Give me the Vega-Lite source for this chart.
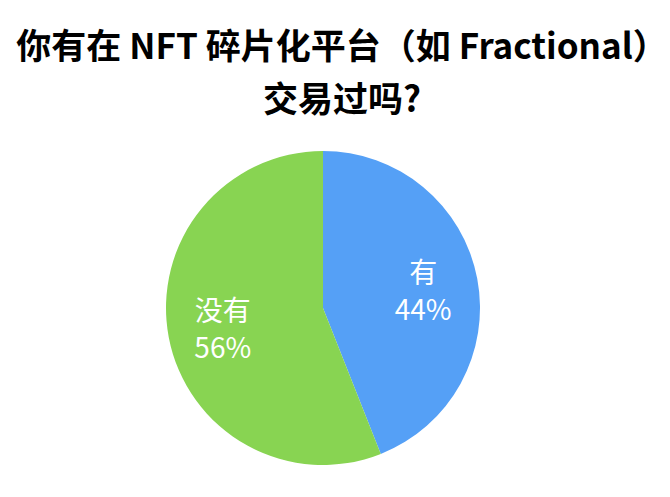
{
  "$schema": "https://vega.github.io/schema/vega-lite/v6.json",
  "autosize": "none",
  "width": 314,
  "height": 314,
  "padding": {"left": 166, "top": 151, "right": 190, "bottom": 32},
  "background": "white",
  "title": {
    "text": ["你有在 NFT 碎片化平台（如 Fractional）", "交易过吗?"],
    "font": "Noto Sans CJK SC",
    "fontSize": 35,
    "fontWeight": "bold",
    "color": "#000000",
    "lineHeight": 53,
    "anchor": "middle",
    "dx": 19,
    "offset": 32
  },
  "data": {
    "values": [
      {"answer": "有", "share": 44, "label": "有\n44%"},
      {"answer": "没有", "share": 56, "label": "没有\n56%"}
    ]
  },
  "encoding": {
    "theta": {"field": "share", "type": "quantitative", "stack": true},
    "order": {"field": "share", "type": "quantitative", "sort": "ascending"}
  },
  "layer": [
    {
      "mark": {"type": "arc", "stroke": null},
      "encoding": {
        "color": {
          "field": "answer",
          "type": "nominal",
          "scale": {"domain": ["有", "没有"], "range": ["#55A0F6", "#88D452"]},
          "legend": null
        }
      }
    },
    {
      "mark": {
        "type": "text",
        "radius": 102,
        "dy": -14,
        "font": "Noto Sans CJK SC",
        "fontSize": 28,
        "color": "white",
        "lineBreak": "\n",
        "lineHeight": 37,
        "align": "center",
        "baseline": "middle"
      },
      "encoding": {
        "text": {"field": "label", "type": "nominal"}
      }
    }
  ],
  "config": {"view": {"stroke": null}}
}
